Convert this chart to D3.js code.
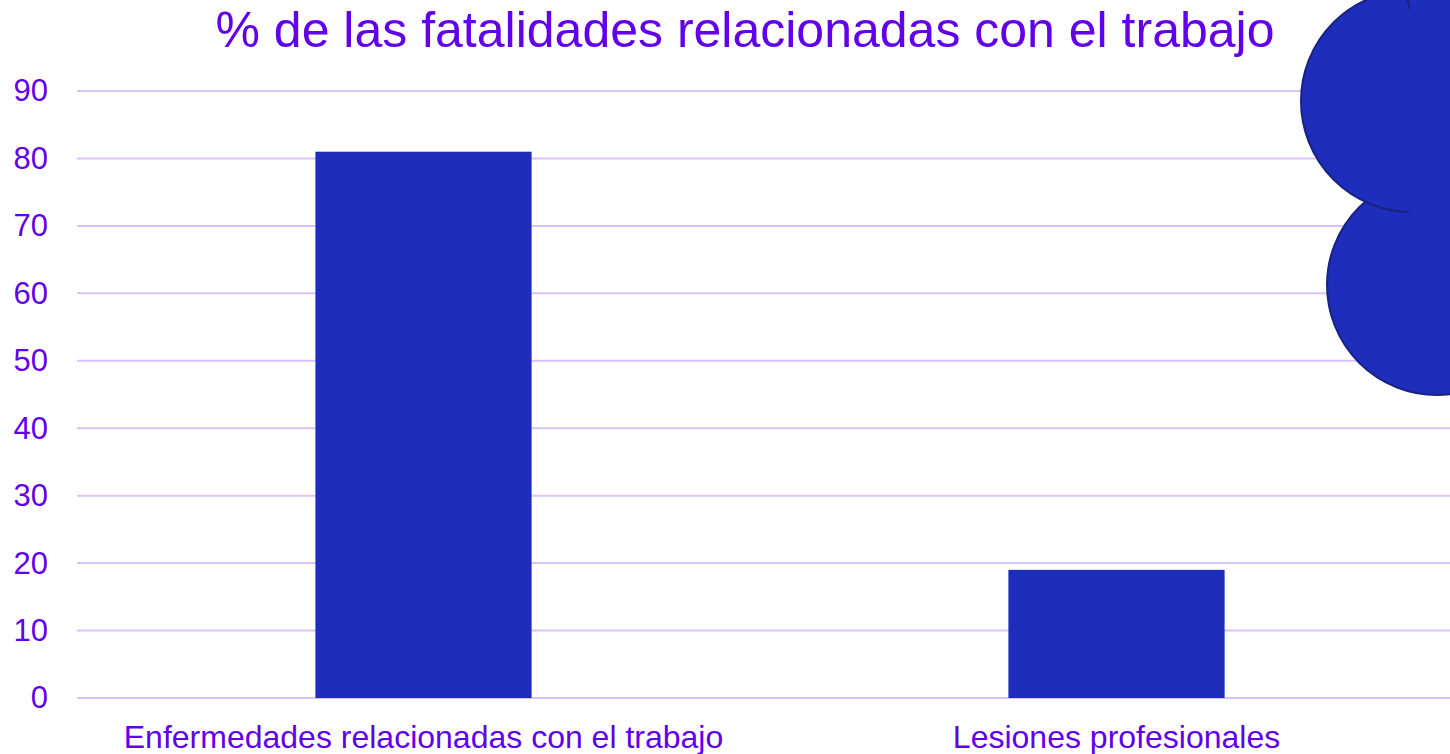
<!DOCTYPE html>
<html>
<head>
<meta charset="utf-8">
<script src="https://cdn.jsdelivr.net/npm/d3@7"></script>
<style>
    body { margin: 0; background: #fff; }
    svg { display: block; font-family: "Liberation Sans", Arial, sans-serif; }
</style>
</head>
<body>
<svg id="chart"></svg>
<script>
// Chart data
const categories = ["Enfermedades relacionadas con el trabajo", "Lesiones profesionales"];
const values = [81, 19];
const yTicks = [0, 10, 20, 30, 40, 50, 60, 70, 80, 90];
const title = "% de las fatalidades relacionadas con el trabajo";

const width = 1450;
const height = 754;
const margin = { top: 91, right: -13, bottom: 56, left: 77 };

const purple = "#6200ea";
const barColor = "#1f2dbd";

const svg = d3.select("#chart")
    .attr("width", width)
    .attr("height", height);

// Scales
const xScale = d3.scaleBand()
    .domain(categories)
    .range([margin.left, width - margin.right])
    .paddingInner(0.688)
    .paddingOuter(0.344);

const yScale = d3.scaleLinear()
    .domain([0, 90])
    .range([height - margin.bottom, margin.top]);

// Gridlines
svg.append("g")
    .selectAll("line")
    .data(yTicks)
    .enter()
    .append("line")
    .attr("x1", margin.left)
    .attr("x2", width)
    .attr("y1", d => yScale(d))
    .attr("y2", d => yScale(d))
    .style("stroke", "#d9c2ff")
    .style("stroke-width", 2);

// Y axis labels
const yAxis = d3.axisLeft(yScale)
    .tickValues(yTicks)
    .tickSize(0)
    .tickPadding(29);

svg.append("g")
    .attr("transform", `translate(${margin.left}, 0)`)
    .call(yAxis)
    .call(g => g.select(".domain").remove())
    .call(g => g.selectAll("text")
        .style("font-size", "31px")
        .style("font-family", "Liberation Sans, Arial, sans-serif")
        .attr("fill", purple));

// Bars
svg.append("g")
    .selectAll("rect")
    .data(values)
    .enter()
    .append("rect")
    .attr("x", (d, i) => xScale(categories[i]))
    .attr("y", d => yScale(d))
    .attr("width", xScale.bandwidth())
    .attr("height", d => yScale(0) - yScale(d))
    .style("fill", barColor);

// X axis labels
const xAxis = d3.axisBottom(xScale)
    .tickSize(0)
    .tickPadding(27);

svg.append("g")
    .attr("transform", `translate(0, ${yScale(0)})`)
    .call(xAxis)
    .call(g => g.select(".domain").remove())
    .call(g => g.selectAll("text")
        .style("font-size", "32px")
        .style("font-family", "Liberation Sans, Arial, sans-serif")
        .attr("fill", purple));

// Title
svg.append("text")
    .attr("x", 745)
    .attr("y", 47)
    .style("text-anchor", "middle")
    .style("font-size", "50px")
    .attr("fill", purple)
    .text(title);

// Decorative cloud in the top right corner
const deco = svg.append("g");
const stroke = "#18237f";

deco.append("circle")
    .attr("cx", 1437).attr("cy", 285).attr("r", 110)
    .style("fill", barColor).style("stroke", stroke).style("stroke-width", 2);

deco.append("circle")
    .attr("cx", 1412).attr("cy", 101).attr("r", 111)
    .style("fill", barColor).style("stroke", stroke).style("stroke-width", 2);

deco.append("circle")
    .attr("cx", 1516).attr("cy", -20).attr("r", 110)
    .style("fill", barColor).style("stroke", stroke).style("stroke-width", 2);

deco.append("rect")
    .attr("x", 1409).attr("y", 9)
    .attr("width", 50).attr("height", 320)
    .style("fill", barColor);
</script>
</body>
</html>
